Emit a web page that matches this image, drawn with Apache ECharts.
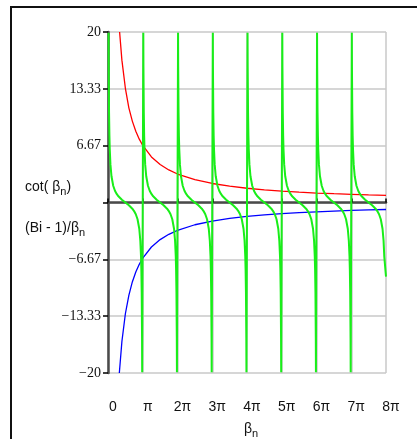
<!DOCTYPE html>
<html>
<head>
<meta charset="utf-8">
<script src="https://cdn.jsdelivr.net/npm/echarts@6/dist/echarts.min.js"></script>
<style>
html,body{margin:0;padding:0;background:#fff;}
#chart{width:417px;height:439px;}
</style>
</head>
<body>
<div id="chart"></div>
<script>
// x values are in units of pi (beta_n / pi)
const xTickLabels = ['0', 'π', '2π', '3π', '4π', '5π', '6π', '7π', '8π'];
const yTickValues = [-20, -13.33, -6.67, 0, 6.67, 13.33, 20];

// red curve: positive branch
const redX = [0.334, 0.4, 0.5, 0.6, 0.7, 0.8, 0.9, 1, 1.25, 1.5, 1.75, 2, 2.5, 3, 3.5, 4, 4.5, 5, 5.5, 6, 6.5, 7, 7.5, 8];
const redY = [20.0, 16.7, 13.4, 11.1, 9.55, 8.36, 7.43, 6.69, 5.35, 4.46, 3.82, 3.34, 2.67, 2.23, 1.91, 1.67, 1.49, 1.34, 1.22, 1.11, 1.03, 0.96, 0.89, 0.84];

// blue curve: negative branch
const blueX = [0.326, 0.4, 0.5, 0.6, 0.7, 0.8, 0.9, 1, 1.25, 1.5, 1.75, 2, 2.5, 3, 3.5, 4, 4.5, 5, 5.5, 6, 6.5, 7, 7.5, 8];
const blueY = [-20.0, -16.3, -13.05, -10.9, -9.32, -8.16, -7.25, -6.53, -5.22, -4.35, -3.73, -3.26, -2.61, -2.18, -1.86, -1.63, -1.45, -1.31, -1.19, -1.09, -1.0, -0.93, -0.87, -0.82];

// green curve: one cot branch (offset within a period, value)
const branchOffsets = [0.016, 0.02, 0.03, 0.04, 0.05, 0.07, 0.1, 0.15, 0.2, 0.25, 0.3, 0.35, 0.4, 0.45, 0.5, 0.55, 0.6, 0.65, 0.7, 0.75, 0.8, 0.85, 0.9, 0.93, 0.95, 0.96, 0.97, 0.98, 0.984];
const branchValues  = [19.9, 15.89, 10.58, 7.92, 6.31, 4.47, 3.08, 1.96, 1.38, 1.0, 0.73, 0.51, 0.33, 0.16, 0, -0.16, -0.33, -0.51, -0.73, -1.0, -1.38, -1.96, -3.08, -4.47, -6.31, -7.92, -10.58, -15.89, -19.9];
const branchStarts = [0, 1, 2, 3, 4, 5, 6, 7];
const lastBranchEnd = [8, -8.7]; // last plotted point at 8π

const redData = redX.map((x, i) => [x, redY[i]]);
const blueData = blueX.map((x, i) => [x, blueY[i]]);
const greenData = [];
branchStarts.forEach((k, bi) => {
  const last = bi === branchStarts.length - 1;
  branchOffsets.forEach((o, i) => {
    if (last && o > 0.95) return;
    greenData.push([k + o, branchValues[i]]);
  });
});
greenData.push(lastBranchEnd);

const chart = echarts.init(document.getElementById('chart'), null, {renderer: 'canvas'});

const sub = {fontFamily: 'Liberation Sans', fontSize: 11, fontWeight: 'normal', color: '#111', padding: [9, 0, 0, 0]};
const main = {fontFamily: 'Liberation Sans', fontSize: 14, fontWeight: 'normal', color: '#111'};

chart.setOption({
  animation: false,
  backgroundColor: '#fff',
  title: [
    {left: 20, top: 172, text: '{a|cot( β}{s|n}{a|)}', textStyle: {fontWeight: 'normal', rich: {a: main, s: sub}}},
    {left: 20, top: 213, text: '{a|(Bi - 1)/β}{s|n}', textStyle: {fontWeight: 'normal', rich: {a: main, s: sub}}},
    {left: 239, top: 414, text: '{a|β}{s|n}', textStyle: {fontWeight: 'normal', rich: {a: main, s: sub}}}
  ],
  graphic: [
    {type: 'line', shape: {x1: 11, y1: 7, x2: 417, y2: 7}, style: {stroke: '#111', lineWidth: 2}, z: 10},
    {type: 'line', shape: {x1: 11, y1: 6, x2: 11, y2: 439}, style: {stroke: '#111', lineWidth: 2}, z: 10}
  ],
  grid: {left: 108, top: 32, right: 31, bottom: 66, containLabel: false, show: false},
  xAxis: [
    {
      type: 'value', min: 0, max: 8, interval: 1,
      axisLine: {onZero: true, lineStyle: {color: '#4a4a4a', width: 2.5}},
      axisTick: {show: true, inside: true, length: 4, lineStyle: {color: '#000', width: 1.5}},
      axisLabel: {show: false},
      splitLine: {show: true, lineStyle: {color: '#c8c8c8', width: 1.5}},
      z: 3
    },
    {
      type: 'value', min: 0, max: 8, interval: 1, position: 'bottom',
      axisLine: {show: false, onZero: false},
      axisTick: {show: false},
      splitLine: {show: false},
      axisLabel: {
        margin: 27, fontFamily: 'Liberation Sans', fontSize: 14, color: '#111',
        padding: [0, 0, 0, 10],
        formatter: v => xTickLabels[Math.round(v)] || ''
      }
    }
  ],
  yAxis: {
    type: 'value', min: -20, max: 20, interval: 20 / 3,
    axisLine: {onZero: false, lineStyle: {color: '#4a4a4a', width: 2.5}},
    axisTick: {show: true, length: 5, lineStyle: {color: '#000', width: 1.5}},
    axisLabel: {
      margin: 7, fontFamily: 'Liberation Serif', fontSize: 14, color: '#111',
      formatter: function (v) {
        let best = yTickValues.reduce((a, b) => Math.abs(b - v) < Math.abs(a - v) ? b : a);
        if (best === 0) return '';
        let s = String(Math.abs(best));
        return (best < 0 ? '\u2212' : '') + s;
      }
    },
    splitLine: {show: true, lineStyle: {color: '#c8c8c8', width: 1.5}},
    z: 3
  },
  series: [
    {type: 'line', data: redData, showSymbol: false, smooth: false, lineStyle: {color: '#ff0000', width: 1.3}, clip: true, z: 4},
    {type: 'line', data: blueData, showSymbol: false, smooth: false, lineStyle: {color: '#0000ff', width: 1.3}, clip: true, z: 4},
    {type: 'line', data: greenData, showSymbol: false, smooth: false, lineStyle: {color: '#19ee19', width: 2}, clip: true, z: 5}
  ]
});
</script>
</body>
</html>
